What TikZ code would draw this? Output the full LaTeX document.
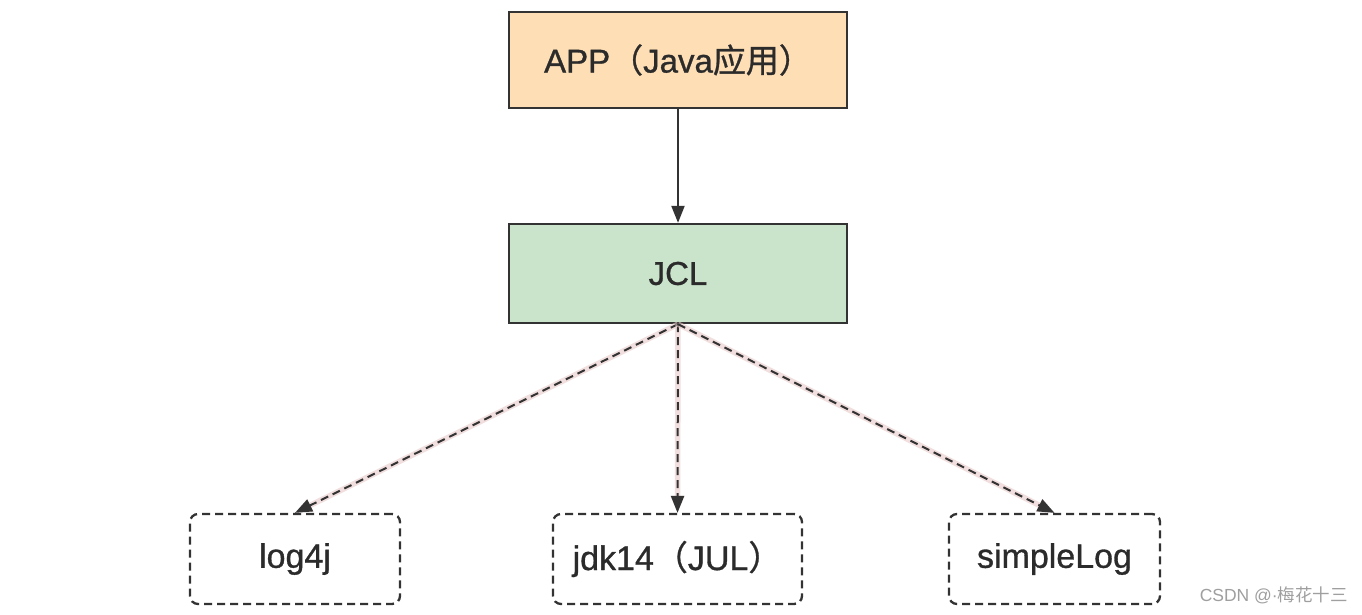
\documentclass[tikz,border=0pt]{standalone}
\usepackage{fontspec}
\setmainfont{Liberation Sans}
\newfontfamily\medfont[FakeBold=0.9]{Liberation Sans}
\newfontfamily\cjk[FakeBold=0.9]{Noto Sans CJK SC}
\newfontfamily\cjklight{Noto Sans CJK SC}
\usetikzlibrary{arrows.meta}
\definecolor{txt}{HTML}{2B2B2B}
\definecolor{edge}{HTML}{333333}
\definecolor{peach}{HTML}{FDDEB5}
\definecolor{mint}{HTML}{C9E4CA}
\definecolor{glow}{HTML}{E9C9C9}
\begin{document}
\begin{tikzpicture}[x=1pt,y=-1pt,
  solidbox/.style={draw=edge,line width=2.3pt,minimum width=338pt,minimum height=96pt,inner sep=0pt,font=\medfont\fontsize{33}{36}\selectfont,text=txt},
  dashbox/.style={draw=edge,line width=2.3pt,dash pattern=on 8pt off 5pt,rounded corners=8pt,minimum height=90pt,inner sep=0pt,font=\medfont\fontsize{34}{38}\selectfont,text=txt},
  tip/.style={-{Triangle[length=17pt,width=13pt]}},
  conn/.style={tip,draw=edge,line width=2pt},
  dconn/.style={tip,draw=edge,line width=2pt,dash pattern=on 8pt off 5pt,
    preaction={draw=glow,line width=5.5pt,opacity=0.6}}
]
\useasboundingbox[fill=white] (0,0) rectangle (1362,614);
\node[solidbox,fill=peach] (app) at (678,60) {APP{\cjk （}Java{\cjk 应用）}};
\node[solidbox,fill=mint,minimum height=99pt] (jcl) at (678,273.5) {JCL};
\node[dashbox,minimum width=210pt] (log) at (295,559) {log4j};
\node[dashbox,minimum width=249pt] (jdk) at (677.5,559) {jdk14{\cjk （}JUL{\cjk ）}};
\node[dashbox,minimum width=211pt] (sim) at (1054.5,559) {simpleLog};
\draw[conn] (app.south) -- (jcl.north);
\coordinate (s) at (jcl.south);
\draw[dconn] (s) -- (log.north);
\draw[dconn] (s) -- (jdk.north);
\draw[dconn] (s) -- (sim.north);
\node[anchor=east,text=gray!75,font=\fontsize{17.5}{20}\selectfont,inner sep=0pt] (wm) at (1348,595) {CSDN @·{\cjklight 梅花十三}};
\end{tikzpicture}
\end{document}
